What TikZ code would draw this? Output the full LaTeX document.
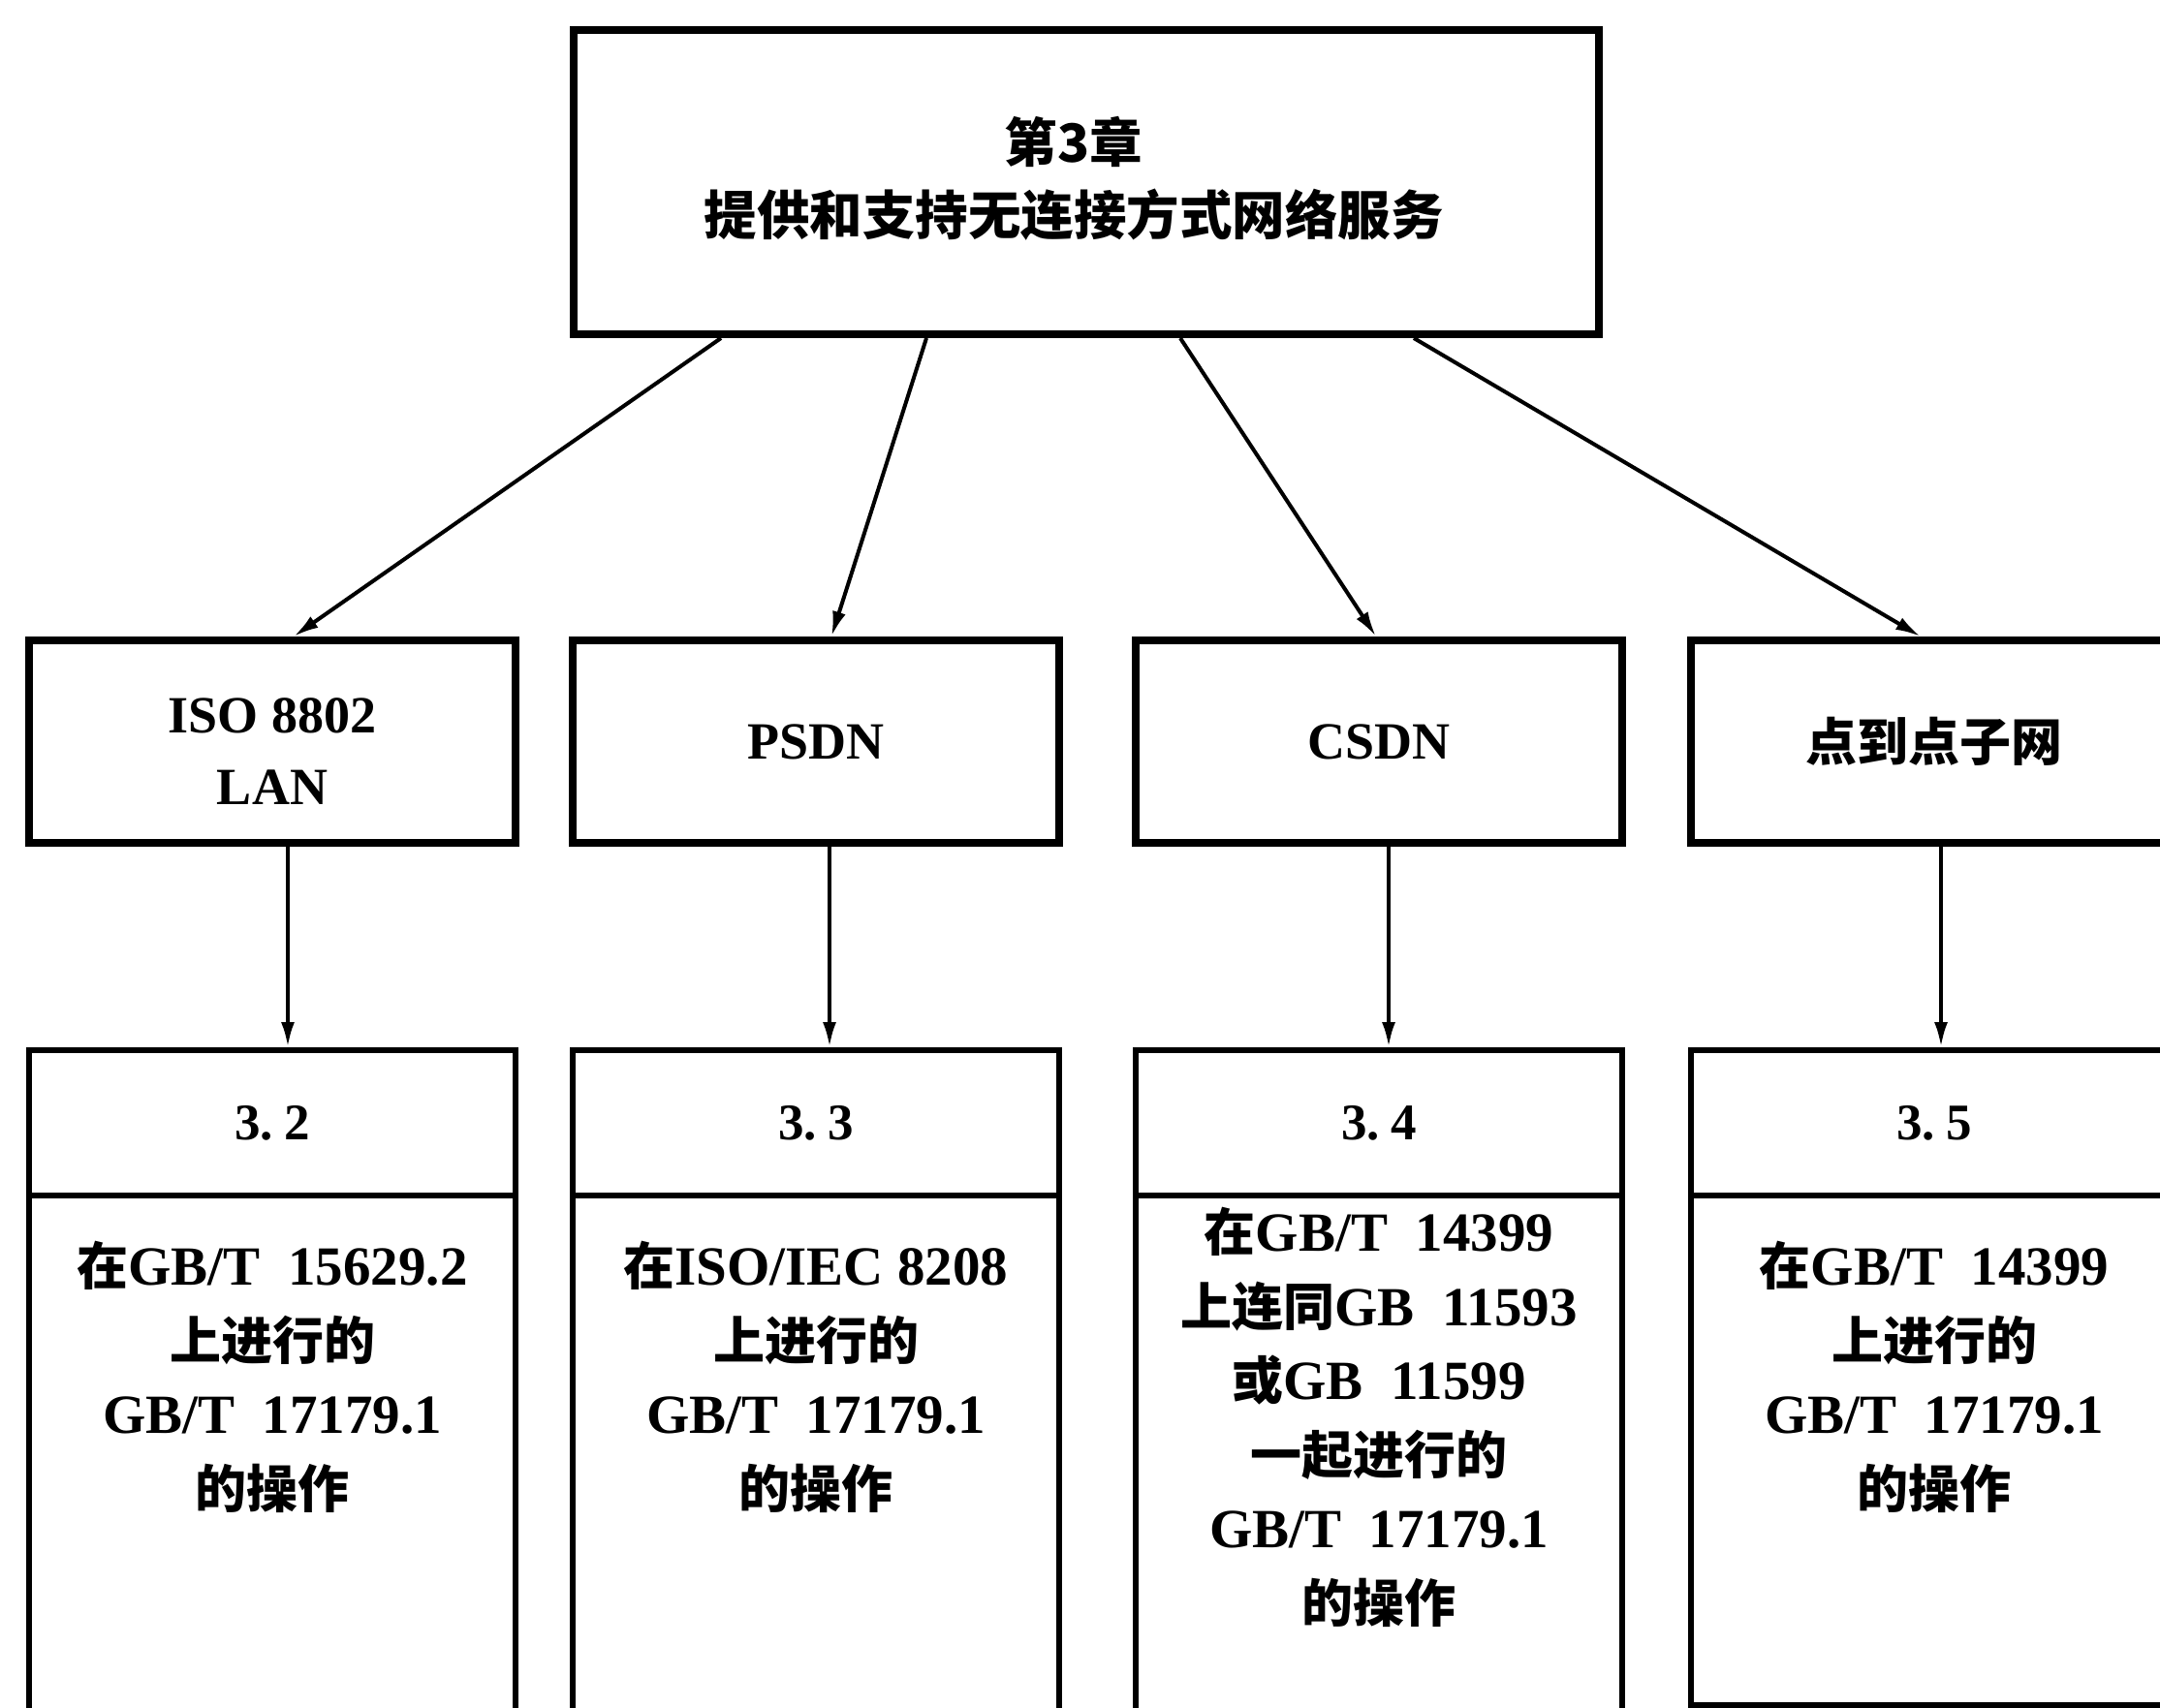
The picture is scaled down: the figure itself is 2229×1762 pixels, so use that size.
\documentclass[tikz,border=0pt]{standalone}
\usepackage{fontspec}
\setmainfont{Liberation Serif}
\newfontfamily\cjk{Noto Sans CJK SC}
\usetikzlibrary{arrows.meta}
\newcommand{\zh}[1]{{\cjk\bfseries #1}}
\newcommand{\zhs}[1]{{\cjk\bfseries\fontsize{53}{76}\selectfont #1}}
\begin{document}
\begin{tikzpicture}[x=1pt,y=-1pt,
  box/.style={draw, line width=8pt, inner sep=0pt, align=center},
  lowbox/.style={draw, line width=6pt, inner sep=0pt, align=center, minimum width=502pt},
  txt/.style={inner sep=0pt, align=center, font=\fontsize{57}{76.5}\selectfont\bfseries},
  arr/.style={line width=4pt, -{Latex[length=26pt,width=14pt]}}]
\useasboundingbox (0,0) rectangle (2229,1762);
\fill[white] (0,0) rectangle (2229,1762);
% top box
\node[box, minimum width=1058pt, minimum height=314pt] (top) at (1121,188) {};
\node[inner sep=0pt, align=center, font=\fontsize{54.5}{75}\selectfont] (toptext) at (1108,184.5)
      {\zh{第3章}\\\zh{提供和支持无连接方式网络服务}};
% middle boxes
\begin{scope}[every node/.style={box, minimum width=502pt, minimum height=209pt,
      font=\fontsize{54}{74}\selectfont\bfseries}]
\node (m1) at (281,765.5) {\rule{0pt}{56pt}ISO 8802\\LAN};
\node (m2) at (842,765.5) {PSDN};
\node (m3) at (1423,765.5) {CSDN};
\node (m4) at (1996,765.5) {\zhs{点到点子网}};
\end{scope}
% bottom header boxes
\begin{scope}[every node/.style={lowbox, minimum height=150pt, font=\fontsize{53}{60}\selectfont\bfseries}]
\node (h1) at (281,1159) {3.\kern0.22em 2};
\node (h2) at (842,1159) {3.\kern0.22em 3};
\node (h3) at (1423,1159) {3.\kern0.22em 4};
\node (h4) at (1996,1159) {3.\kern0.22em 5};
\end{scope}
% bottom body boxes
\begin{scope}[every node/.style={lowbox, minimum height=566pt}]
\node (b1) at (281,1517) {};
\node (b2) at (842,1517) {};
\node (b3) at (1423,1517) {};
\node[minimum height=526pt] (b4) at (1996,1497) {};
\end{scope}
% body texts
\node[txt, anchor=north] (t1) at (281,1281)
  {\zhs{在}GB/T~ 15629.2\\\zhs{上进行的}\\GB/T~ 17179.1\\\zhs{的操作}};
\node[txt, anchor=north] (t2) at (842,1281)
  {\zhs{在}ISO/IEC 8208\\\zhs{上进行的}\\GB/T~ 17179.1\\\zhs{的操作}};
\node[txt, anchor=north] (t3) at (1423,1246)
  {\zhs{在}GB/T~ 14399\\\zhs{上连同}GB~ 11593\\\zhs{或}GB~ 11599\\\zhs{一起进行的}\\GB/T~ 17179.1\\\zhs{的操作}};
\node[txt, anchor=north] (t4) at (1996,1281)
  {\zhs{在}GB/T~ 14399\\\zhs{上进行的}\\GB/T~ 17179.1\\\zhs{的操作}};
% arrows top -> middle
\draw[arr] ([xshift=-377pt]top.south) -- ([xshift=22pt]m1.north);
\draw[arr] ([xshift=-165pt]top.south) -- ([xshift=16pt]m2.north);
\draw[arr] ([xshift=97pt]top.south) -- ([xshift=-3pt]m3.north);
\draw[arr] ([xshift=338pt]top.south) -- ([xshift=-14pt]m4.north);
% arrows middle -> bottom
\draw[arr] ([xshift=16pt]m1.south) -- ([xshift=16pt]h1.north);
\draw[arr] ([xshift=14pt]m2.south) -- ([xshift=14pt]h2.north);
\draw[arr] ([xshift=10pt]m3.south) -- ([xshift=10pt]h3.north);
\draw[arr] ([xshift=7pt]m4.south) -- ([xshift=7pt]h4.north);
\end{tikzpicture}
\end{document}
